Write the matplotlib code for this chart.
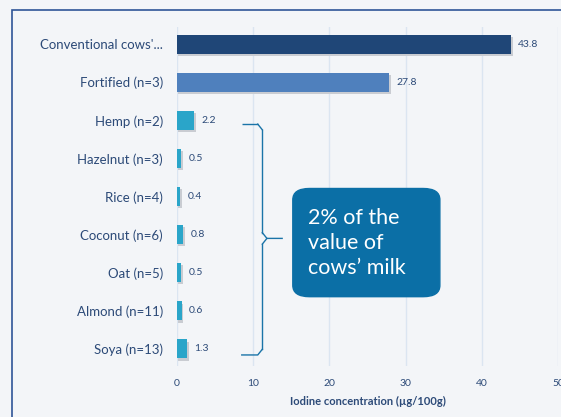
import matplotlib.pyplot as plt
import matplotlib.patches as mpatches
from matplotlib.patches import FancyBboxPatch
import numpy as np

plt.rcParams['font.family'] = ['Lato', 'DejaVu Sans']

categories = ["Conventional cows'...", "Fortified (n=3)", "Hemp (n=2)", "Hazelnut (n=3)",
              "Rice (n=4)", "Coconut (n=6)", "Oat (n=5)", "Almond (n=11)", "Soya (n=13)"]
values = [43.8, 27.8, 2.2, 0.5, 0.4, 0.8, 0.5, 0.6, 1.3]
colors = ['#1f4677', '#4f80bd'] + ['#2aa5c9'] * 7
xticks = [0, 10, 20, 30, 40, 50]

txt = '#2c4a78'
bg = '#f3f5f8'

fig = plt.figure(figsize=(5.61, 4.17), dpi=100, facecolor=bg)
ax = fig.add_axes([0.3155, 0.1223, 0.6791, 0.813])
ax.set_facecolor(bg)

y = np.arange(len(categories))
# soft shadow
ax.barh(y + 0.06, np.array(values) + 0.15, height=0.5, color='#c9ccd2', zorder=2, left=0.1)
ax.barh(y, values, height=0.5, color=colors, zorder=3)
for yi, v in zip(y, values):
    ax.text(v + 1.0, yi, f'{v:.1f}', va='center', ha='left', fontsize=7.5, color=txt, zorder=4)

ax.set_xlim(0, 50)
ax.set_ylim(8.45, -0.45)
ax.set_yticks(y)
ax.set_yticklabels(categories, fontsize=9.5, color=txt)
ax.set_xticks(xticks)
ax.set_xticklabels([str(t) for t in xticks], fontsize=7.5, color=txt)
ax.tick_params(axis='both', length=0)
ax.tick_params(axis='y', pad=10)
ax.tick_params(axis='x', pad=9)
ax.grid(axis='x', color='#dbe5f1', linewidth=1, zorder=0)
for s in ax.spines.values():
    s.set_visible(False)
ax.set_xlabel('Iodine concentration (µg/100g)', fontsize=8, fontweight='bold', color=txt, labelpad=6)

# curly brace
bc = '#1a74a8'
x0, x1, xt = 8.5, 11.2, 13.8
ytop, ybot, ymid = 2.1, 8.16, 5.1
ax.plot([x0, x1 - 0.6], [ytop, ytop], color=bc, lw=1, zorder=5, solid_capstyle='butt')
ax.plot([x1 - 0.6, x1], [ytop, ytop + 0.15], color=bc, lw=1, zorder=5)
ax.plot([x1, x1], [ytop + 0.15, ymid - 0.15], color=bc, lw=1, zorder=5)
ax.plot([x1, x1 + 0.6, xt], [ymid - 0.15, ymid, ymid], color=bc, lw=1, zorder=5)
ax.plot([x1, x1 + 0.6], [ymid + 0.15, ymid], color=bc, lw=1, zorder=5)
ax.plot([x1, x1], [ymid + 0.15, ybot - 0.15], color=bc, lw=1, zorder=5)
ax.plot([x1, x1 - 0.6, x0], [ybot - 0.15, ybot, ybot], color=bc, lw=1, zorder=5)

# callout box
box = FancyBboxPatch((15.2, 3.79), 19.3, 2.84, boxstyle='round,pad=0,rounding_size=2.2',
                     mutation_aspect=0.135, facecolor='#0b6fa6', edgecolor='#0b6fa6', zorder=6)
ax.add_patch(box)
ax.text(17.2, 5.22, "2% of the\nvalue of\ncows’ milk", color='white', fontsize=15.5,
        va='center', ha='left', linespacing=1.3, zorder=7)

# slide frame
fig.patches.append(mpatches.Rectangle((12 / 561, -0.05), 1.1, 1 - 10 / 417 + 0.05,
                                      transform=fig.transFigure, fill=False,
                                      edgecolor='#2f5597', linewidth=1.2))

fig.savefig('out.png', dpi=100, facecolor=bg)
